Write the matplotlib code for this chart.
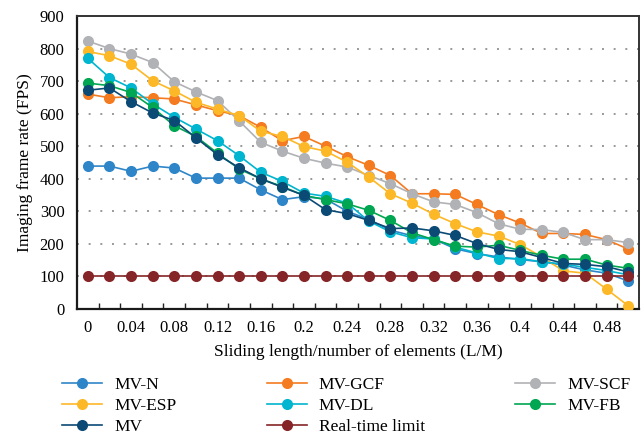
import matplotlib
matplotlib.use("Agg")
import matplotlib.pyplot as plt
from matplotlib.ticker import FixedLocator

plt.rcParams["font.family"] = ["Liberation Serif", "DejaVu Serif"]

# sliding length / number of elements
x = [round(0.02 * i, 2) for i in range(26)]

mv_n = [439, 439, 423, 439, 433, 402, 402, 402, 366, 336, 345, 338, 300, 275, 242,
        225, 215, 185, 170, 160, 152, 145, 135, 120, 110, 86]
mv_gcf = [660, 649, 652, 649, 645, 627, 609, 594, 558, 517, 530, 500, 468, 441, 410,
          354, 354, 352, 321, 290, 264, 232, 232, 229, 213, 184]
mv_scf = [823, 800, 783, 757, 698, 667, 640, 578, 512, 485, 463, 448, 436, 410, 385,
          354, 329, 321, 296, 262, 245, 244, 235, 213, 213, 204]
mv_esp = [791, 778, 752, 701, 670, 635, 614, 594, 546, 530, 499, 485, 451, 405, 354,
          325, 291, 262, 237, 224, 198, 160, 117, 110, 61, 10]
mv_dl = [770, 711, 679, 630, 589, 553, 517, 471, 420, 392, 356, 346, 325, 270, 237,
         219, 215, 190, 172, 155, 155, 145, 138, 128, 118, 105]
mv_fb = [694, 686, 665, 619, 563, 530, 479, 430, 400, 376, 349, 336, 323, 303, 272,
         234, 213, 193, 190, 196, 180, 165, 153, 153, 135, 125]
mv = [672, 679, 637, 602, 579, 526, 474, 434, 400, 374, 349, 305, 293, 272, 247,
      249, 240, 226, 201, 183, 176, 158, 140, 137, 130, 114]
real_time = [100] * 26

series = [
    ("MV-N", mv_n, "#2e86c8"),
    ("MV-GCF", mv_gcf, "#f47b20"),
    ("MV-SCF", mv_scf, "#b1b2b5"),
    ("MV-ESP", mv_esp, "#fdb827"),
    ("MV-DL", mv_dl, "#00b5cf"),
    ("MV-FB", mv_fb, "#00a651"),
    ("MV", mv, "#0b4a75"),
    ("Real-time limit", real_time, "#862528"),
]

x_labels = ["0", "0.04", "0.08", "0.12", "0.16", "0.2", "0.24", "0.28", "0.32",
            "0.36", "0.4", "0.44", "0.48"]

fig = plt.figure(figsize=(6.44, 4.4), dpi=100)
ax = fig.add_axes([77 / 644, 1 - 309 / 440, 562 / 644, 293 / 440])

lines = {}
for name, vals, color in series:
    ln, = ax.plot(x, vals, color=color, lw=1.2, marker="o", ms=8,
                  markeredgewidth=0, label=name, zorder=3)
    lines[name] = ln

ax.set_xlim(-0.01, 0.51)
ax.set_ylim(0, 900)
ax.set_yticks(range(0, 901, 100))

# tick marks sit between categories, labels on every other category
ax.xaxis.set_major_locator(FixedLocator([0.01 + 0.02 * i for i in range(25)]))
ax.xaxis.set_minor_locator(FixedLocator([0.04 * i for i in range(13)]))
ax.xaxis.set_major_formatter(plt.NullFormatter())
ax.set_xticklabels(x_labels, minor=True)
ax.tick_params(axis="x", which="major", direction="in", length=4, width=1, color="#222")
ax.tick_params(axis="x", which="minor", length=0, pad=8, labelsize=12)
ax.tick_params(axis="y", length=0, pad=9, labelsize=12)

for yv in range(100, 900, 100):
    ax.axhline(yv, color="#999999", lw=1.4, ls=(0, (1, 5)), zorder=1)

for side in ["left", "bottom"]:
    ax.spines[side].set_linewidth(1.6)
    ax.spines[side].set_color("#1a1a1a")
for side in ["top", "right"]:
    ax.spines[side].set_linewidth(1.4)
    ax.spines[side].set_color("#333333")

ax.set_xlabel("Sliding length/number of elements (L/M)", fontsize=12.5, labelpad=6)
ax.set_ylabel("Imaging frame rate (FPS)", fontsize=12.5, labelpad=5)

order = ["MV-N", "MV-ESP", "MV", "MV-GCF", "MV-DL", "Real-time limit", "MV-SCF", "MV-FB"]
fig.legend([lines[n] for n in order], order, ncol=3, loc="upper left",
           bbox_to_anchor=(62 / 644, 1 - 377 / 440), frameon=False, fontsize=12.5,
           handlelength=2.3, handletextpad=0.7, columnspacing=5.2, labelspacing=0.27,
           borderpad=0, borderaxespad=0)

fig.savefig("out.png", dpi=100)
